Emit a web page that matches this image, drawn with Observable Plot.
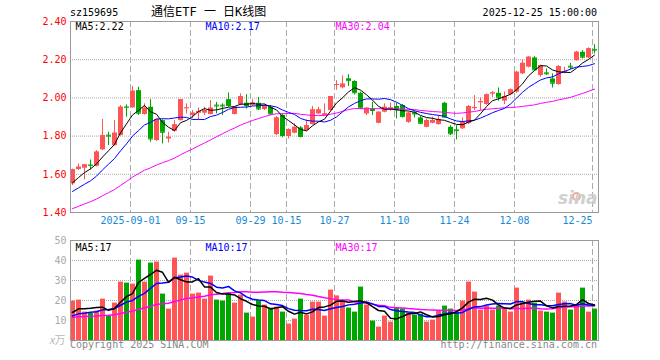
<!DOCTYPE html>
<html><head><meta charset="utf-8">
<script src="https://cdn.jsdelivr.net/npm/d3@7"></script>
<script src="https://cdn.jsdelivr.net/npm/@observablehq/plot@0.6"></script>
<style>
body{margin:0;background:#fff;}
#wrap{position:relative;width:660px;height:360px;overflow:hidden;font-family:"DejaVu Sans Mono",monospace;}
.t{position:absolute;white-space:nowrap;}
#price,#vol{position:absolute;left:0;}
#price{top:0;} #vol{top:230px;}
</style></head><body>
<div id="wrap">
  <div class="t" style="left:70px;top:8px;font-size:10px;line-height:10px;color:#000">sz159695</div>
  <div class="t" style="left:151px;top:6px;font-size:12px;line-height:12px;color:#000;font-family:'DejaVu Sans Mono','Noto Sans CJK SC'">通信ETF 一 日K线图</div>
  <div class="t" style="right:63px;top:8px;font-size:10px;line-height:10px;color:#000">2025-12-25 15:00:00</div>
  <div id="price"></div>
  <div id="vol"></div>
  <div class="t" style="left:49px;top:334px;font-size:11px;line-height:11px;color:#bbb;font-family:'Noto Sans CJK SC'"><i>x</i>万</div>
  <div class="t" style="left:70px;top:340px;font-size:10px;line-height:10px;color:#888">Copyright 2025 SINA.COM</div>
  <div class="t" style="right:63px;top:340px;font-size:10px;line-height:10px;color:#888">http://finance.sina.com.cn</div>
</div>
<script>
// trading days shown
const dates = [
"2025-08-18","2025-08-19","2025-08-20","2025-08-21","2025-08-22","2025-08-25","2025-08-26","2025-08-27","2025-08-28","2025-08-29",
"2025-09-01","2025-09-02","2025-09-03","2025-09-04","2025-09-05","2025-09-08","2025-09-09","2025-09-10","2025-09-11","2025-09-12",
"2025-09-15","2025-09-16","2025-09-17","2025-09-18","2025-09-19","2025-09-22","2025-09-23","2025-09-24","2025-09-25","2025-09-26",
"2025-09-29","2025-09-30","2025-10-09","2025-10-10","2025-10-13","2025-10-14","2025-10-15","2025-10-16","2025-10-17","2025-10-20",
"2025-10-21","2025-10-22","2025-10-23","2025-10-24","2025-10-27","2025-10-28","2025-10-29","2025-10-30","2025-10-31","2025-11-03",
"2025-11-04","2025-11-05","2025-11-06","2025-11-07","2025-11-10","2025-11-11","2025-11-12","2025-11-13","2025-11-14","2025-11-17",
"2025-11-18","2025-11-19","2025-11-20","2025-11-21","2025-11-24","2025-11-25","2025-11-26","2025-11-27","2025-11-28","2025-12-01",
"2025-12-02","2025-12-03","2025-12-04","2025-12-05","2025-12-08","2025-12-09","2025-12-10","2025-12-11","2025-12-12","2025-12-15",
"2025-12-16","2025-12-17","2025-12-18","2025-12-19","2025-12-22","2025-12-23","2025-12-24","2025-12-25"];

const open = [1.550,1.625,1.632,1.649,1.642,1.728,1.805,1.750,1.803,1.953,
1.948,2.038,1.913,1.951,1.777,1.881,1.785,1.825,1.881,1.946,
1.908,1.920,1.920,1.913,1.962,1.962,1.991,1.913,1.965,1.972,
1.962,1.972,1.939,1.951,1.808,1.908,1.798,1.815,1.843,1.829,
1.860,1.916,1.908,1.934,2.065,2.053,2.100,2.086,2.024,1.916,
1.942,1.867,1.925,1.944,1.955,1.960,1.872,1.922,1.895,1.846,
1.867,1.860,1.972,1.846,1.832,1.838,1.865,1.944,1.975,1.965,
2.021,2.024,1.983,2.017,2.030,2.126,2.161,2.209,2.117,2.131,
2.099,2.070,2.131,2.166,2.195,2.239,2.209,2.254];
const high = [1.627,1.654,1.652,1.675,1.724,1.887,1.820,1.881,1.960,1.963,
2.059,2.056,1.969,1.991,1.890,1.885,1.820,1.881,1.992,1.969,
1.934,1.948,1.951,1.986,1.977,1.969,2.026,1.955,2.021,2.017,
1.990,2.003,1.965,1.960,1.902,1.916,1.838,1.864,1.850,1.885,
1.955,1.951,1.969,2.007,2.090,2.115,2.122,2.090,2.030,1.948,
1.977,1.927,1.969,1.972,1.972,1.965,1.925,1.930,1.902,1.890,
1.899,1.908,1.977,1.855,1.855,1.895,1.960,2.012,2.000,2.021,
2.033,2.052,2.030,2.047,2.140,2.199,2.216,2.216,2.172,2.152,
2.126,2.169,2.161,2.181,2.244,2.248,2.262,2.279];
const low = [1.541,1.620,1.571,1.623,1.638,1.724,1.750,1.748,1.800,1.899,
1.945,1.908,1.910,1.768,1.772,1.759,1.764,1.820,1.879,1.916,
1.890,1.881,1.908,1.911,1.916,1.908,1.951,1.911,1.960,1.942,
1.955,1.934,1.934,1.908,1.803,1.791,1.785,1.812,1.791,1.825,
1.858,1.914,1.905,1.930,2.040,2.047,2.060,2.015,1.940,1.908,
1.908,1.864,1.922,1.930,1.890,1.895,1.867,1.895,1.864,1.843,
1.864,1.857,1.895,1.803,1.780,1.835,1.860,1.934,1.934,1.962,
2.003,1.983,1.965,2.012,2.024,2.122,2.157,2.143,2.108,2.117,
2.052,2.066,2.126,2.147,2.192,2.204,2.205,2.230];
const close = [1.623,1.637,1.649,1.647,1.716,1.803,1.800,1.815,1.951,1.951,
2.035,1.920,1.946,1.785,1.887,1.820,1.794,1.859,1.990,1.948,
1.920,1.928,1.934,1.946,1.958,1.958,1.960,1.951,2.007,1.960,
1.974,1.942,1.960,1.916,1.895,1.803,1.834,1.846,1.798,1.855,
1.937,1.937,1.916,2.007,2.070,2.072,2.090,2.027,1.946,1.946,
1.934,1.925,1.951,1.948,1.937,1.902,1.920,1.916,1.867,1.881,
1.881,1.885,1.899,1.812,1.829,1.872,1.955,1.950,1.980,2.016,
2.026,2.003,2.007,2.042,2.134,2.181,2.213,2.147,2.169,2.126,
2.077,2.164,2.136,2.161,2.239,2.213,2.257,2.250];
// volume, 万
const volume = [19.7,20.2,14.2,13.5,14.7,20.7,12.3,18.7,29.2,28.7,
28.2,40.2,29.2,38.7,39.2,23.2,15.7,41.2,32.7,33.7,
23.2,23.7,20.7,32.2,20.2,19.7,23.2,18.7,22.7,13.7,
11.7,19.7,17.7,16.2,16.7,14.2,8.2,10.7,20.7,12.7,
19.2,19.2,12.2,25.2,22.3,19.7,16.2,14.2,26.7,17.7,
9.7,6.7,12.2,9.2,16.2,15.7,13.7,12.7,13.2,9.2,
10.2,14.7,17.2,15.7,14.2,19.7,29.2,24.2,15.2,17.2,
15.2,17.2,16.2,14.2,26.2,18.7,20.2,18.7,14.7,14.2,
13.7,23.7,19.2,15.2,17.7,26.2,14.2,15.7];
// sessions before the window (estimated from where the MA lines start)
const priorCloses = [1.27,1.28,1.29,1.30,1.29,1.31,1.32,1.31,1.33,1.35,
1.38,1.40,1.42,1.44,1.45,1.47,1.46,1.47,1.48,1.48,
1.45,1.46,1.47,1.47,1.475,1.50,1.52,1.55,1.585];
const priorVolumes = [10,11,9.5,10.5,12,9,10.4,11,10,11,
12,11,13,10.6,12,11,13,12,11,12,
10,11,9,12,11,11,14,12.3,13];

const tickDates = ["2025-09-01","2025-09-15","2025-09-29","2025-10-15","2025-10-27","2025-11-10","2025-11-24","2025-12-08","2025-12-25"];
const tickLabels = ["2025-09-01","09-15","09-29","10-15","10-27","11-10","11-24","12-08","12-25"];
const priceTicks = [1.40,1.60,1.80,2.00,2.20,2.40];
const volTicks = [10,20,30,40,50];

const UP = "#ff5555", DOWN = "#00a600";
const n = dates.length;
const allC = priorCloses.concat(close), allV = priorVolumes.concat(volume);
const off = priorCloses.length;
function ma(arr, k, i) { let s = 0; for (let j = i - k + 1; j <= i; j++) s += arr[j + off]; return s / k; }
const rows = dates.map((d, i) => ({
  i, d, o: open[i], h: high[i], l: low[i], c: close[i], v: volume[i], up: close[i] >= open[i],
  m5: ma(allC, 5, i), m10: ma(allC, 10, i), m30: ma(allC, 30, i),
  v5: ma(allV, 5, i), v10: ma(allV, 10, i), v30: ma(allV, 30, i)
}));
const last = rows[n - 1];
const f2 = v => (Math.floor(v * 100 + 1e-6) / 100).toFixed(2);
const f0 = v => String(Math.floor(v + 1e-6));
const tickIdx = tickDates.map(d => dates.indexOf(d));
const tickRows = tickIdx.map((x, k) => ({x, label: tickLabels[k]}));
const col = d => d.up ? UP : DOWN;
const font = "DejaVu Sans Mono";
const style = {fontFamily: font, fontSize: "10px", background: "transparent", overflow: "visible"};
const TICK_BLUE = "#1589d8";

const price = Plot.plot({
  width: 660, height: 230, marginTop: 21, marginBottom: 18, marginLeft: 70, marginRight: 62,
  x: {domain: [0, n], axis: null}, y: {domain: [1.40, 2.40], axis: null},
  style,
  marks: [
    Plot.ruleY(priceTicks.slice(1, -1), {stroke: "#aaa", strokeDasharray: "1,1"}),
    Plot.ruleX(tickIdx, {stroke: "#aaa", strokeDasharray: "6,3"}),
    Plot.dot([0], {frameAnchor: "bottom-right", dx: -22, dy: -16, r: 3.5, stroke: "#f2a9a9", strokeWidth: 2, fill: "none"}),
    Plot.text(["sina"], {frameAnchor: "bottom-right", dx: -1, dy: -9, fill: "#cfcfcf", fontSize: 17, fontWeight: "bold", fontStyle: "italic", fontFamily: "DejaVu Sans", textAnchor: "end", lineAnchor: "bottom"}),
    Plot.ruleX(rows, {x: d => d.i + 0.5, y1: "l", y2: "h", stroke: col, dx: -1}),
    Plot.rect(rows, {x1: "i", x2: d => d.i + 1, y1: "o", y2: "c", fill: col, insetRight: 1}),
    Plot.ruleY(rows, {x1: "i", x2: d => d.i + 1, y: "c", stroke: col, insetRight: 1}),
    Plot.line(rows, {x: d => d.i + 0.5, y: "m30", stroke: "#ff00ff", strokeWidth: 1, dx: -1}),
    Plot.line(rows, {x: d => d.i + 0.5, y: "m10", stroke: "#0000ff", strokeWidth: 1, dx: -1}),
    Plot.line(rows, {x: d => d.i + 0.5, y: "m5", stroke: "#000000", strokeWidth: 1, dx: -1}),
    Plot.frame({stroke: "#999"}),
    Plot.text(["MA5:" + f2(last.m5)], {frameAnchor: "top-left", dx: 5, dy: 1, fill: "#000", textAnchor: "start", lineAnchor: "top"}),
    Plot.text(["MA10:" + f2(last.m10)], {frameAnchor: "top-left", dx: 135, dy: 1, fill: "#0000ff", textAnchor: "start", lineAnchor: "top"}),
    Plot.text(["MA30:" + f2(last.m30)], {frameAnchor: "top-left", dx: 265, dy: 1, fill: "#ff00ff", textAnchor: "start", lineAnchor: "top"}),
    Plot.axisY({ticks: priceTicks, tickFormat: d => d.toFixed(2), tickSize: 0, tickPadding: 4, fill: "#ff0000", fontSize: 10, label: null}),
    Plot.text(tickRows.slice(0, -1), {x: "x", text: "label", frameAnchor: "bottom", lineAnchor: "top", dy: 4, fill: TICK_BLUE, textAnchor: "middle"}),
    Plot.text(tickRows.slice(-1), {x: "x", text: "label", frameAnchor: "bottom", lineAnchor: "top", dy: 4, fill: TICK_BLUE, textAnchor: "end"})
  ]
});
document.getElementById("price").appendChild(price);

const vol = Plot.plot({
  width: 660, height: 130, marginTop: 10, marginBottom: 20, marginLeft: 70, marginRight: 62,
  x: {domain: [0, n], axis: null}, y: {domain: [0, 50], axis: null},
  style,
  marks: [
    Plot.ruleY(volTicks.slice(0, -1), {stroke: "#aaa", strokeDasharray: "1,1"}),
    Plot.ruleX(tickIdx, {stroke: "#aaa", strokeDasharray: "6,3"}),
    Plot.rect(rows, {x1: "i", x2: d => d.i + 1, y1: 0, y2: "v", fill: col, insetRight: 1}),
    Plot.line(rows, {x: d => d.i + 0.5, y: "v30", stroke: "#ff00ff", dx: -1}),
    Plot.line(rows, {x: d => d.i + 0.5, y: "v10", stroke: "#0000ff", dx: -1}),
    Plot.line(rows, {x: d => d.i + 0.5, y: "v5", stroke: "#000000", dx: -1}),
    Plot.frame({stroke: "#999"}),
    Plot.text(["MA5:" + f0(last.v5)], {frameAnchor: "top-left", dx: 5, dy: 3, fill: "#000", textAnchor: "start", lineAnchor: "top"}),
    Plot.text(["MA10:" + f0(last.v10)], {frameAnchor: "top-left", dx: 135, dy: 3, fill: "#0000ff", textAnchor: "start", lineAnchor: "top"}),
    Plot.text(["MA30:" + f0(last.v30)], {frameAnchor: "top-left", dx: 265, dy: 3, fill: "#ff00ff", textAnchor: "start", lineAnchor: "top"}),
    Plot.axisY({ticks: volTicks, tickFormat: d => String(d), tickSize: 0, tickPadding: 4, fill: "#aaa", fontSize: 10, label: null})
  ]
});
document.getElementById("vol").appendChild(vol);
</script>
</body></html>
